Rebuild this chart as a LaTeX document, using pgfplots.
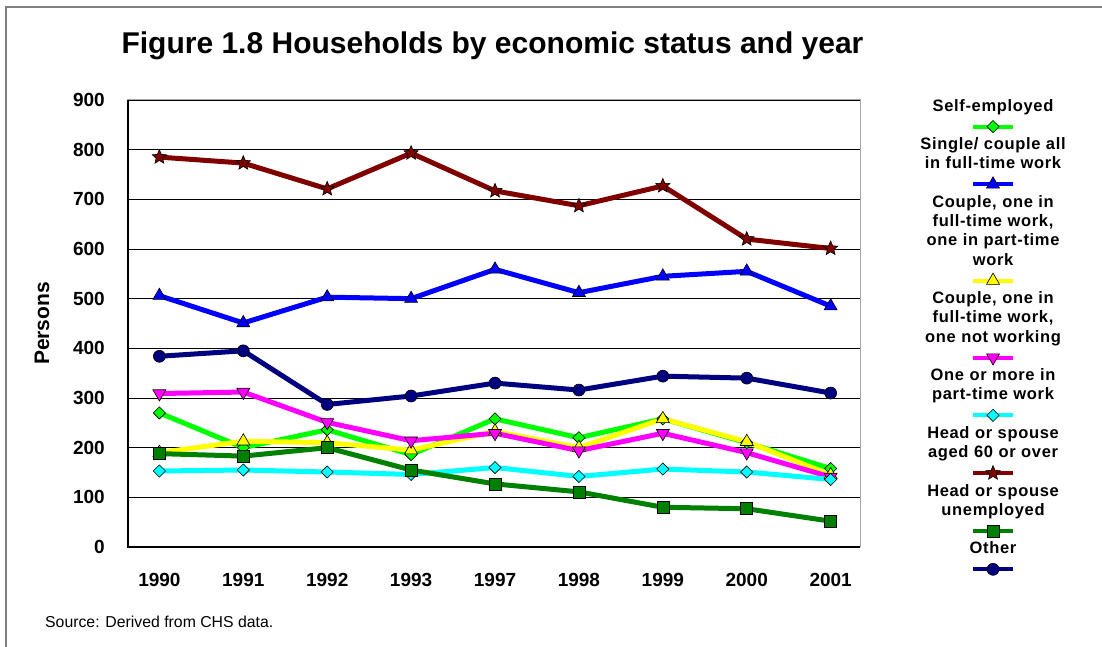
\documentclass[border=0pt]{standalone}
\usepackage{fontspec}
\setmainfont{Liberation Sans}
\newfontfamily\legendfamily[LetterSpace=4]{Liberation Sans}
\usepackage{pgfplots}
\usepackage{pgfplotstable}
\pgfplotsset{compat=1.18}

\definecolor{cse}{HTML}{00FF00}
\definecolor{cft}{HTML}{0000FF}
\definecolor{cpt}{HTML}{FFFF00}
\definecolor{cnw}{HTML}{FF00FF}
\definecolor{cone}{HTML}{00FFFF}
\definecolor{cold}{HTML}{800000}
\definecolor{cun}{HTML}{008000}
\definecolor{coth}{HTML}{000080}

% filled five-pointed star
\pgfdeclareplotmark{fstar}{%
  \pgfpathmoveto{\pgfpointpolar{90}{\pgfplotmarksize}}%
  \pgfpathlineto{\pgfpointpolar{126}{0.45\pgfplotmarksize}}%
  \pgfpathlineto{\pgfpointpolar{162}{\pgfplotmarksize}}%
  \pgfpathlineto{\pgfpointpolar{198}{0.45\pgfplotmarksize}}%
  \pgfpathlineto{\pgfpointpolar{234}{\pgfplotmarksize}}%
  \pgfpathlineto{\pgfpointpolar{270}{0.45\pgfplotmarksize}}%
  \pgfpathlineto{\pgfpointpolar{306}{\pgfplotmarksize}}%
  \pgfpathlineto{\pgfpointpolar{342}{0.45\pgfplotmarksize}}%
  \pgfpathlineto{\pgfpointpolar{18}{\pgfplotmarksize}}%
  \pgfpathlineto{\pgfpointpolar{54}{0.45\pgfplotmarksize}}%
  \pgfpathclose
  \pgfusepathqfillstroke}

\newcommand{\legfont}{\legendfamily\bfseries\fontsize{16.5}{19.25}\selectfont}

\pgfplotstableread{
x se  ft  pt  nw  one old un  oth
0 270 506 190 309 153 785 188 384
1 200 451 213 312 155 773 183 395
2 236 503 210 251 151 721 200 287
3 186 500 195 214 146 793 155 304
4 258 559 233 229 160 717 127 330
5 220 512 200 194 142 687 111 316
6 258 545 258 229 157 727  80 344
7 210 555 212 190 151 620  77 340
8 158 485 145 141 136 601  52 310
}\data

\pgfplotsset{
  sse/.style={draw=cse, line width=5pt, mark=square*, mark size=4.3pt,
    mark options={solid, fill=cse, draw=black, line width=0.6pt, rotate=45}},
  sft/.style={draw=cft, line width=5pt, mark=triangle*, mark size=7.5pt,
    mark options={solid, fill=cft, draw=black, line width=0.6pt}},
  spt/.style={draw=cpt, line width=5pt, mark=triangle*, mark size=7.5pt,
    mark options={solid, fill=cpt, draw=black, line width=0.6pt}},
  snw/.style={draw=cnw, line width=5pt, mark=triangle*, mark size=7.5pt,
    mark options={solid, fill=cnw, draw=black, line width=0.6pt, rotate=180}},
  sone/.style={draw=cone, line width=5pt, mark=square*, mark size=4.3pt,
    mark options={solid, fill=cone, draw=black, line width=0.6pt, rotate=45}},
  sold/.style={draw=cold, line width=5pt, mark=fstar, mark size=7.5pt,
    mark options={solid, fill=cold, draw=black, line width=0.6pt}},
  sun/.style={draw=cun, line width=5pt, mark=square*, mark size=6pt,
    mark options={solid, fill=cun, draw=black, line width=0.6pt}},
  soth/.style={draw=coth, line width=5pt, mark=*, mark size=6pt,
    mark options={solid, fill=coth, draw=black, line width=0.6pt}},
  lsamp/.style={legend image code/.code={%
    \draw[overlay,line width=4pt,mark repeat=2,mark phase=2] plot coordinates {(65pt,0pt) (85pt,0pt) (105pt,0pt)};}},
}

\begin{document}
\begin{tikzpicture}
\path[use as bounding box] (0,0) rectangle (1102pt,647pt);
\draw[black!50, line width=1.3pt] (6pt,0pt) -- (6pt,640pt) -- (1102pt,640pt);
\begin{axis}[
  at={(127.5pt,100pt)}, anchor=south west,
  scale only axis, width=732.5pt, height=447pt,
  clip=false,
  xmin=-0.38, xmax=8.35, ymin=0, ymax=900,
  xtick={0,...,8},
  xticklabels={1990,1991,1992,1993,1997,1998,1999,2000,2001},
  ytick={0,100,...,900},
  major tick length=0pt,
  tick label style={font=\bfseries\fontsize{19}{22}\selectfont},
  /pgf/number format/assume math mode=true,
  xticklabel style={anchor=center, inner sep=0pt, yshift=-33pt},
  yticklabel style={anchor=east, inner sep=0pt, xshift=-22.5pt},
  ymajorgrids, major grid style={black, line width=0.8pt},
  axis line style={draw=gray!70, line width=1pt},
  title={Figure 1.8 Households by economic status and year},
  title style={at={(axis description cs:0.4983,1)}, anchor=base, yshift=40pt,
    font=\bfseries\fontsize{30}{36}\selectfont},
  ylabel={Persons},
  ylabel style={at={(axis description cs:-0.1167,0.5)}, anchor=center,
    font=\bfseries\fontsize{21}{25}\selectfont},
  legend cell align=center,
  legend style={draw=none, fill=none, inner sep=0pt,
    at={(axis description cs:1.1816,1.0056)}, anchor=north,
    row sep=0pt, column sep=0pt,
    nodes={text width=170pt, align=center, inner sep=0pt, text depth=,
      font=\legfont, execute at begin node=\strut, execute at end node=\strut}},
]
\addplot[sse, forget plot] table[x=x, y=se] {\data};
\addplot[sft, forget plot] table[x=x, y=ft] {\data};
\addplot[spt, forget plot] table[x=x, y=pt] {\data};
\addplot[snw, forget plot] table[x=x, y=nw] {\data};
\addplot[sone, forget plot] table[x=x, y=one] {\data};
\addplot[sold, forget plot] table[x=x, y=old] {\data};
\addplot[sun, forget plot] table[x=x, y=un] {\data};
\addplot[soth, forget plot] table[x=x, y=oth] {\data};

\draw[black, line width=2pt] (rel axis cs:0,1) -- (rel axis cs:0,0) -- (rel axis cs:1,0);

\addlegendimage{empty legend}\addlegendentry{Self-employed}
\addlegendimage{sse, lsamp}\addlegendentry{\mbox{}}
\addlegendimage{empty legend}\addlegendentry{Single/ couple all\\in full-time work}
\addlegendimage{sft, lsamp}\addlegendentry{\mbox{}}
\addlegendimage{empty legend}\addlegendentry{Couple, one in\\full-time work,\\one in part-time\\work}
\addlegendimage{spt, lsamp}\addlegendentry{\mbox{}}
\addlegendimage{empty legend}\addlegendentry{Couple, one in\\full-time work,\\one not working}
\addlegendimage{snw, lsamp}\addlegendentry{\mbox{}}
\addlegendimage{empty legend}\addlegendentry{One or more in\\part-time work}
\addlegendimage{sone, lsamp}\addlegendentry{\mbox{}}
\addlegendimage{empty legend}\addlegendentry{Head or spouse\\aged 60 or over}
\addlegendimage{sold, lsamp}\addlegendentry{\mbox{}}
\addlegendimage{empty legend}\addlegendentry{Head or spouse\\unemployed}
\addlegendimage{sun, lsamp}\addlegendentry{\mbox{}}
\addlegendimage{empty legend}\addlegendentry{Other}
\addlegendimage{soth, lsamp}\addlegendentry{\mbox{}}
\end{axis}
\node[anchor=base west, inner sep=0pt, font=\fontsize{15.8}{19}\selectfont]
  at (45pt,19pt) {Source: Derived from CHS data.};
\end{tikzpicture}
\end{document}
